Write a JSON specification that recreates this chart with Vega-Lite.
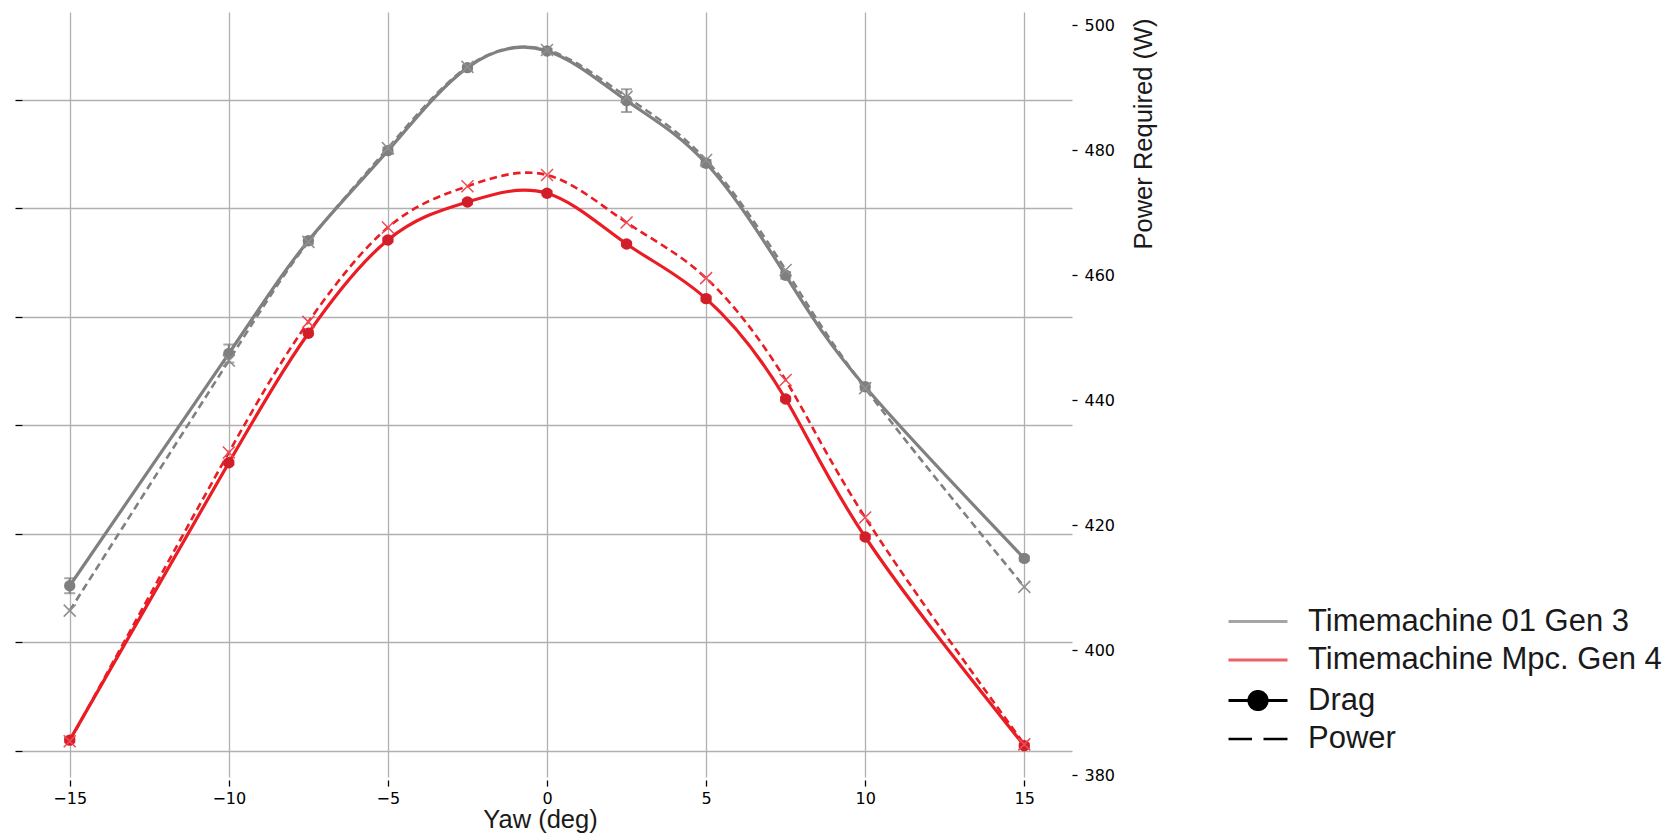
{
  "$schema": "https://vega.github.io/schema/vega-lite/v6.json",
  "width": 1050,
  "height": 765,
  "autosize": {"type": "none"},
  "padding": {"left": 22, "top": 12, "right": 595, "bottom": 63},
  "background": "white",
  "config": {
    "view": {"stroke": null},
    "axis": {
      "domain": false,
      "gridColor": "#b0b0b0",
      "gridWidth": 1.3,
      "gridOpacity": 1,
      "tickColor": "black",
      "tickWidth": 1.3,
      "labelFont": "DejaVu Sans",
      "labelFontSize": 16,
      "labelColor": "black",
      "titleFont": "Liberation Sans",
      "titleFontWeight": "normal",
      "titleFontSize": 25.5,
      "titleColor": "#1a1a1a"
    },
    "legend": {
      "labelFont": "Liberation Sans",
      "labelFontSize": 31,
      "labelColor": "#1a1a1a",
      "labelLimit": 600,
      "padding": 0,
      "rowPadding": 6.5,
      "symbolSize": 400,
      "symbolStrokeWidth": 3
    }
  },
  "data": {
    "values": [
      {"yaw": -15, "model": "Timemachine 01 Gen 3", "drag": 23.52, "drag_err": 0.069, "power": 406.3},
      {"yaw": -10, "model": "Timemachine 01 Gen 3", "drag": 25.66, "drag_err": 0.083, "power": 446.3},
      {"yaw": -7.5, "model": "Timemachine 01 Gen 3", "drag": 26.70, "drag_err": 0.03, "power": 465.3},
      {"yaw": -5, "model": "Timemachine 01 Gen 3", "drag": 27.53, "drag_err": 0.03, "power": 480.3},
      {"yaw": -2.5, "model": "Timemachine 01 Gen 3", "drag": 28.295, "drag_err": 0.02, "power": 493.3},
      {"yaw": 0, "model": "Timemachine 01 Gen 3", "drag": 28.449, "drag_err": 0.02, "power": 496.0},
      {"yaw": 2.5, "model": "Timemachine 01 Gen 3", "drag": 27.991, "drag_err": 0.105, "power": 488.5},
      {"yaw": 5, "model": "Timemachine 01 Gen 3", "drag": 27.414, "drag_err": 0.03, "power": 478.4},
      {"yaw": 7.5, "model": "Timemachine 01 Gen 3", "drag": 26.381, "drag_err": 0.03, "power": 460.8},
      {"yaw": 10, "model": "Timemachine 01 Gen 3", "drag": 25.354, "drag_err": 0.03, "power": 441.9},
      {"yaw": 15, "model": "Timemachine 01 Gen 3", "drag": 23.772, "drag_err": 0.02, "power": 410.1},
      {"yaw": -15, "model": "Timemachine Mpc. Gen 4", "drag": 22.097, "drag_err": 0.02, "power": 385.4},
      {"yaw": -10, "model": "Timemachine Mpc. Gen 4", "drag": 24.654, "drag_err": 0.02, "power": 431.6},
      {"yaw": -7.5, "model": "Timemachine Mpc. Gen 4", "drag": 25.847, "drag_err": 0.02, "power": 452.5},
      {"yaw": -5, "model": "Timemachine Mpc. Gen 4", "drag": 26.707, "drag_err": 0.02, "power": 467.6},
      {"yaw": -2.5, "model": "Timemachine Mpc. Gen 4", "drag": 27.057, "drag_err": 0.02, "power": 474.2},
      {"yaw": 0, "model": "Timemachine Mpc. Gen 4", "drag": 27.137, "drag_err": 0.02, "power": 476.0},
      {"yaw": 2.5, "model": "Timemachine Mpc. Gen 4", "drag": 26.670, "drag_err": 0.02, "power": 468.4},
      {"yaw": 5, "model": "Timemachine Mpc. Gen 4", "drag": 26.166, "drag_err": 0.02, "power": 459.5},
      {"yaw": 7.5, "model": "Timemachine Mpc. Gen 4", "drag": 25.241, "drag_err": 0.02, "power": 443.2},
      {"yaw": 10, "model": "Timemachine Mpc. Gen 4", "drag": 23.969, "drag_err": 0.02, "power": 421.2},
      {"yaw": 15, "model": "Timemachine Mpc. Gen 4", "drag": 22.045, "drag_err": 0.02, "power": 384.9}
    ]
  },
  "layer": [
    {
      "encoding": {
        "x": {
          "field": "yaw", "type": "quantitative",
          "scale": {"domain": [-16.5, 16.5], "nice": false, "zero": false},
          "axis": {"values": [-15, -10, -5, 0, 5, 10, 15], "title": "Yaw (deg)", "tickSize": 6, "offset": 3, "labelPadding": 4, "titlePadding": 1, "titleX": 518, "titleAnchor": "middle", "titleAlign": "center", "grid": true}
        },
        "y": {
          "field": "drag", "type": "quantitative",
          "scale": {"domain": [21.757, 28.808], "nice": false, "zero": false},
          "axis": {"orient": "left", "values": [22, 23, 24, 25, 26, 27, 28], "labels": false, "tickSize": 7, "title": null, "grid": true}
        }
      },
      "layer": [
        {
          "mark": {"type": "line", "interpolate": "natural"},
          "encoding": {
            "color": {
              "field": "model", "type": "nominal",
              "scale": {"domain": ["Timemachine 01 Gen 3", "Timemachine Mpc. Gen 4"], "range": ["#808080", "#ea1c24"]},
              "legend": {"title": null, "orient": "none", "legendX": 1220.5, "legendY": 594, "symbolType": "M-2.95,0L2.95,0", "labelOffset": 34.5, "symbolStrokeWidth": 3}
            },
            "strokeWidth": {
              "datum": "Drag", "type": "ordinal",
              "scale": {"domain": ["Drag", "Power"], "range": [3.2, 2.6]},
              "legend": {
                "title": null, "orient": "none", "legendX": 1220.5, "legendY": 673, "labelOffset": 34.5,
                "encode": {
                  "symbols": {
                    "update": {
                      "shape": {"signal": "datum.value === 'Drag' ? 'M-2.95,0L2.95,0M-0.9,0A0.9,0.9,0,1,1,0.9,0A0.9,0.9,0,1,1,-0.9,0Z' : 'M-2.95,0L-0.6,0M0.55,0L2.95,0'"},
                      "fill": {"signal": "datum.value === 'Drag' ? 'black' : 'transparent'"},
                      "stroke": {"value": "black"},
                      "strokeDash": {"value": [1, 0]},
                      "opacity": {"value": 1}
                    }
                  }
                }
              }
            }
          }
        },
        {
          "mark": {"type": "errorbar", "ticks": {"size": 11}, "thickness": 2},
          "encoding": {
            "y": {"field": "drag", "type": "quantitative"},
            "yError": {"field": "drag_err"},
            "color": {"field": "model", "type": "nominal"}
          }
        },
        {
          "mark": {"type": "point", "shape": "circle", "filled": true, "size": 130, "opacity": 1},
          "encoding": {
            "fill": {
              "field": "model", "type": "nominal",
              "scale": {"domain": ["Timemachine 01 Gen 3", "Timemachine Mpc. Gen 4"], "range": ["#7f7f7f", "#d11f2a"]},
              "legend": null
            }
          }
        }
      ]
    },
    {
      "encoding": {
        "x": {"field": "yaw", "type": "quantitative", "scale": {"domain": [-16.5, 16.5], "nice": false, "zero": false}},
        "y": {
          "field": "power", "type": "quantitative",
          "scale": {"domain": [379.68, 502.08], "nice": false, "zero": false},
          "axis": {
            "orient": "right", "values": [380, 400, 420, 440, 460, 480, 500], "grid": false, "tickSize": 5, "labelPadding": 7,
            "title": "Power Required (W)", "titleAngle": 270, "titleAlign": "right", "titleBaseline": "middle", "titleX": 71, "titleY": 6
          }
        }
      },
      "layer": [
        {
          "mark": {"type": "line", "interpolate": "natural", "strokeDash": [7.5, 4.5]},
          "encoding": {
            "color": {"field": "model", "type": "nominal"},
            "strokeWidth": {"datum": "Power", "type": "ordinal"}
          }
        },
        {
          "mark": {"type": "point", "shape": "M-1,-1L1,1M-1,1L1,-1", "filled": false, "size": 144, "strokeWidth": 1.5, "opacity": 1},
          "encoding": {
            "stroke": {
              "field": "model", "type": "nominal",
              "scale": {"domain": ["Timemachine 01 Gen 3", "Timemachine Mpc. Gen 4"], "range": ["#8f8f8f", "#ef4a55"]},
              "legend": null
            }
          }
        }
      ]
    }
  ],
  "resolve": {"scale": {"y": "independent"}, "axis": {"y": "independent"}}
}
